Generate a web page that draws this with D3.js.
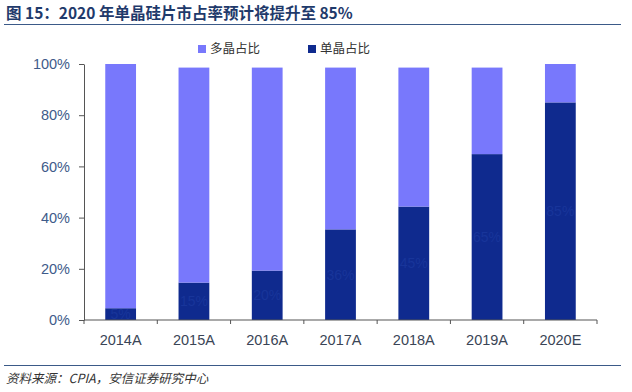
<!DOCTYPE html>
<html lang="zh">
<head>
<meta charset="UTF-8">
<title>单晶硅片市占率</title>
<style>
  body { margin: 0; background: #fff; }
  svg { display: block; font-family: Arial, "Liberation Sans", sans-serif; }
</style>
</head>
<body>
<div id="chart"></div>
<script src="https://cdn.jsdelivr.net/npm/d3@7/dist/d3.min.js"></script>
<script>
  // data
  const years = ["2014A", "2015A", "2016A", "2017A", "2018A", "2019A", "2020E"];
  const mono = [4.6, 14.6, 19.3, 35.4, 44.3, 64.8, 85.0];
  const multi = [95.4, 84.0, 79.3, 63.2, 54.3, 33.8, 15.0];
  const monoLabels = ["5%", "15%", "20%", "36%", "45%", "65%", "85%"];
  const yTicks = [0, 20, 40, 60, 80, 100];

  const W = 632, H = 392;
  const margin = { top: 64, right: 35, bottom: 72, left: 84 };

  const svg = d3.select("#chart").append("svg")
    .attr("width", W)
    .attr("height", H);

  // title + rules
  svg.append("text")
    .attr("x", 6).attr("y", 19)
    .attr("font-size", 15.5).attr("font-weight", "bold")
    .attr("fill", "#1f3a6b")
    .attr("font-family", "'Noto Sans CJK SC', Arial, sans-serif")
    .text("图 15：2020 年单晶硅片市占率预计将提升至 85%");
  svg.append("line")
    .attr("x1", 4).attr("x2", 621).attr("y1", 24.5).attr("y2", 24.5)
    .attr("stroke", "#3b5a88").attr("stroke-width", 1.2);
  svg.append("line")
    .attr("x1", 4).attr("x2", 621).attr("y1", 365.5).attr("y2", 365.5)
    .attr("stroke", "#3b5a88").attr("stroke-width", 1.2);
  svg.append("text")
    .attr("x", 6).attr("y", 383)
    .attr("font-size", 12.5).attr("font-style", "italic")
    .attr("fill", "#333")
    .attr("font-family", "'Noto Sans CJK SC', Arial, sans-serif")
    .text("资料来源：CPIA，安信证券研究中心");

  const x = d3.scaleBand()
    .domain(years)
    .range([margin.left, W - margin.right])
    .paddingInner(0.58).paddingOuter(0.29);

  const y = d3.scaleLinear()
    .domain([0, 100])
    .range([H - margin.bottom, margin.top]);

  // stacked bars
  const g = svg.append("g");
  g.selectAll("rect.mono")
    .data(years)
    .join("rect")
    .attr("class", "mono")
    .attr("x", d => x(d))
    .attr("width", x.bandwidth())
    .attr("y", (d, i) => y(mono[i]))
    .attr("height", (d, i) => y(0) - y(mono[i]))
    .attr("fill", "#0f2a8e");
  g.selectAll("rect.multi")
    .data(years)
    .join("rect")
    .attr("class", "multi")
    .attr("x", d => x(d))
    .attr("width", x.bandwidth())
    .attr("y", (d, i) => y(mono[i] + multi[i]))
    .attr("height", (d, i) => y(mono[i]) - y(mono[i] + multi[i]))
    .attr("fill", "#7878fc");

  // faint labels in the mono part
  g.selectAll("text.lab")
    .data(years)
    .join("text")
    .attr("class", "lab")
    .attr("x", d => x(d) + x.bandwidth() / 2)
    .attr("y", (d, i) => (y(0) + y(mono[i])) / 2 + 5)
    .attr("text-anchor", "middle")
    .attr("font-size", 14)
    .attr("fill", "#18359a")
    .text((d, i) => monoLabels[i]);

  // y axis
  const yAxis = svg.append("g")
    .attr("transform", `translate(${margin.left},0)`)
    .call(d3.axisLeft(y).tickValues(yTicks).tickFormat(d => d + "%").tickSize(5).tickSizeOuter(0));
  yAxis.select(".domain").attr("stroke", "#555");
  yAxis.selectAll(".tick line").attr("stroke", "#555");
  yAxis.selectAll(".tick text")
    .attr("x", -14)
    .attr("font-size", 14.5)
    .attr("fill", "#3e5b8a");

  // x axis, ticks between categories
  const xAxis = svg.append("g")
    .attr("transform", `translate(0,${y(0)})`);
  xAxis.append("line")
    .attr("x1", margin.left).attr("x2", W - margin.right)
    .attr("stroke", "#555");
  const step = x.step();
  const edges = d3.range(years.length + 1).map(i => margin.left + i * step);
  xAxis.selectAll("line.tk")
    .data(edges)
    .join("line")
    .attr("class", "tk")
    .attr("x1", d => d).attr("x2", d => d)
    .attr("y1", 0).attr("y2", 4)
    .attr("stroke", "#555");
  xAxis.selectAll("text")
    .data(years)
    .join("text")
    .attr("x", d => x(d) + x.bandwidth() / 2)
    .attr("y", 25)
    .attr("text-anchor", "middle")
    .attr("font-size", 14.5)
    .attr("fill", "#3a4556")
    .text(d => d);

  // legend
  const legend = [
    { name: "多晶占比", color: "#7878fc", x: 198 },
    { name: "单晶占比", color: "#0f2a8e", x: 308 }
  ];
  const lg = svg.selectAll("g.leg")
    .data(legend)
    .join("g")
    .attr("class", "leg")
    .attr("transform", d => `translate(${d.x},44)`);
  lg.append("rect")
    .attr("width", 8).attr("height", 8)
    .attr("y", 1)
    .attr("fill", d => d.color);
  lg.append("text")
    .attr("x", 12).attr("y", 9)
    .attr("font-size", 12.5)
    .attr("fill", "#333")
    .attr("font-family", "'Noto Sans CJK SC', sans-serif")
    .text(d => d.name);
</script>
</body>
</html>
